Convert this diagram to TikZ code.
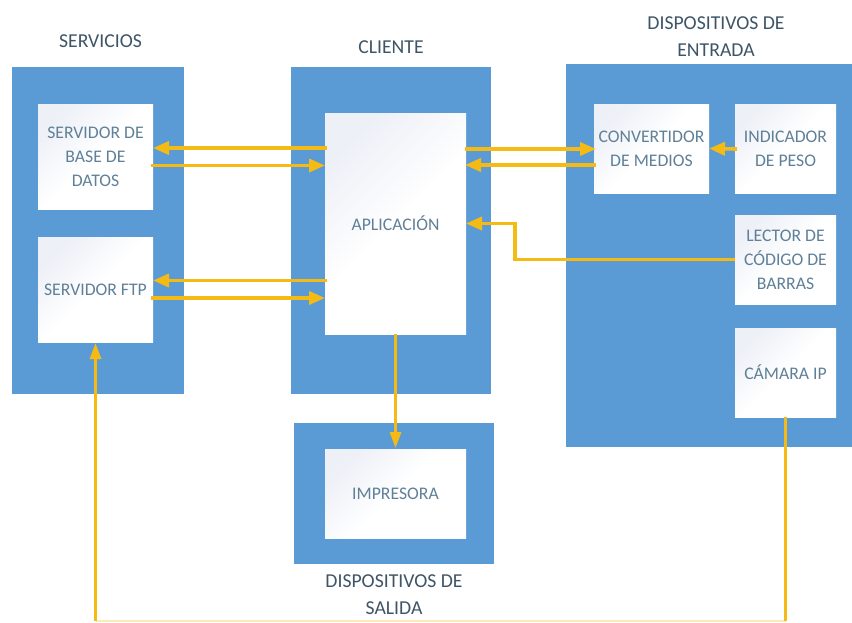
\documentclass[tikz,border=0pt]{standalone}
\usepackage{fontspec}
\setmainfont{Carlito}
\usetikzlibrary{arrows.meta}
\definecolor{panelblue}{HTML}{5B9BD5}
\definecolor{linkyellow}{HTML}{F6BA14}
\definecolor{innertext}{HTML}{5F8098}
\definecolor{titletext}{HTML}{3F5567}
\definecolor{boxtint}{HTML}{EDF0F7}
\tikzset{
  x=1pt,y=-1pt,
  panel/.style={fill=panelblue,draw=none,inner sep=0pt,outer sep=0pt},
  innerbox/.style={top color=boxtint,bottom color=white,middle color=white,shading angle=45,draw=none,inner sep=0pt,outer sep=0pt,
    align=center,text=innertext,font=\fontsize{17.7}{24}\selectfont},
  grouptitle/.style={align=center,text=titletext,inner sep=0pt,font=\fontsize{19.7}{27}\selectfont},
  link/.style={draw=linkyellow,line width=3.6pt,-{Triangle[length=16pt,width=13pt]}},
  linkthin/.style={draw=linkyellow,line width=3pt,-{Triangle[length=16pt,width=11pt]}},
  linkplain/.style={draw=linkyellow,line width=3pt},
  linkpale/.style={draw=linkyellow!30,line width=2pt},
}
\begin{document}
\begin{tikzpicture}
\useasboundingbox (0,0) rectangle (852,622);
\fill[white] (0,0) rectangle (852,622);
% panels
\node[panel,minimum width=172pt,minimum height=327pt,anchor=north west] (servicios) at (12,67) {};
\node[panel,minimum width=200pt,minimum height=327pt,anchor=north west] (cliente) at (291,67) {};
\node[panel,minimum width=286pt,minimum height=383pt,anchor=north west] (entrada) at (566,64) {};
\node[panel,minimum width=200pt,minimum height=141pt,anchor=north west] (salida) at (294,423) {};
% inner boxes
\node[innerbox,minimum width=115pt,minimum height=105pt,anchor=north west] (db) at (38,104) {SERVIDOR DE\\BASE DE\\DATOS};
\node[innerbox,minimum width=115pt,minimum height=105pt,anchor=north west] (ftp) at (38,237) {SERVIDOR FTP};
\node[innerbox,minimum width=141pt,minimum height=221pt,anchor=north west] (app) at (325,113) {APLICACIÓN};
\node[innerbox,minimum width=115pt,minimum height=89pt,anchor=north west] (conv) at (594,104) {CONVERTIDOR\\DE MEDIOS};
\node[innerbox,minimum width=101pt,minimum height=89pt,anchor=north west] (peso) at (735,104) {INDICADOR\\DE PESO};
\node[innerbox,minimum width=101pt,minimum height=89pt,anchor=north west] (lector) at (735,215) {LECTOR DE\\CÓDIGO DE\\BARRAS};
\node[innerbox,minimum width=101pt,minimum height=89pt,anchor=north west] (camara) at (735,328) {CÁMARA IP};
\node[innerbox,minimum width=141pt,minimum height=89pt,anchor=north west] (impresora) at (325,449) {IMPRESORA};
% titles
\node[grouptitle] (tservicios) at (100.5,41) {SERVICIOS};
\node[grouptitle] (tcliente) at (391,47) {CLIENTE};
\node[grouptitle] (tentrada) at (716,36.5) {DISPOSITIVOS DE\\ENTRADA};
\node[grouptitle] (tsalida) at (394,594.5) {DISPOSITIVOS DE\\SALIDA};
% connectors
\draw[link] ([xshift=2pt,yshift=75.5pt]app.west) -- ([yshift=8.5pt]db.east);
\draw[link] ([xshift=-2pt,yshift=-9pt]db.east) -- ([yshift=58pt]app.west);
\draw[link] ([xshift=2pt,yshift=-57pt]app.west) -- ([yshift=9pt]ftp.east);
\draw[link] ([xshift=-2pt,yshift=-8.5pt]ftp.east) -- ([yshift=-74.5pt]app.west);
\draw[link] ([xshift=-1pt,yshift=74.5pt]app.east) -- ([xshift=2pt,yshift=-0.5pt]conv.west);
\draw[link] ([xshift=2pt,yshift=-16.5pt]conv.west) -- ([xshift=-1pt,yshift=58.5pt]app.east);
\draw[link] ([xshift=2pt,yshift=-0.5pt]peso.west) -- (conv.east |- peso.west);
\draw[link] (lector.west) -- ++(-220,0) |- (app.east);
\draw[linkthin] (app.south) -- ([yshift=1pt]impresora.north);
\coordinate (cornerright) at (camara.south |- 0,621);
\coordinate (cornerleft) at (ftp.south |- 0,621);
\draw[linkpale] (cornerleft) -- (cornerright);
\draw[linkplain] (camara.south) -- (cornerright);
\draw[linkthin] (cornerleft) -- ([yshift=-1pt]ftp.south);
\end{tikzpicture}
\end{document}
